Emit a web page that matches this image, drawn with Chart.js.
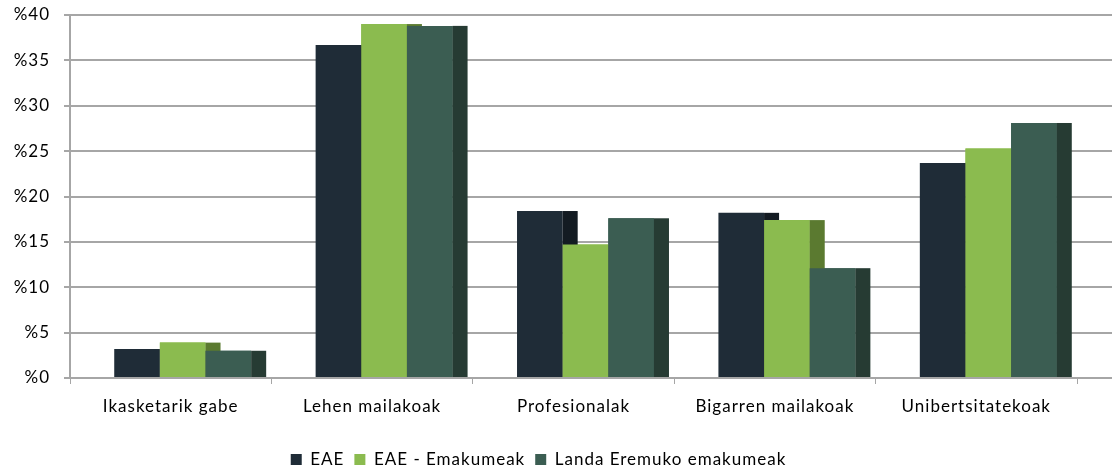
<!DOCTYPE html>
<html>
<head>
<meta charset="utf-8">
<script src="https://cdn.jsdelivr.net/npm/chart.js@4"></script>
<style>
  html, body { margin: 0; padding: 0; background: #ffffff; }
  #wrap { width: 1112px; height: 470px; }
</style>
</head>
<body>
<div id="wrap"><canvas id="c" width="1112" height="470"></canvas></div>
<script>
const categories = ['Ikasketarik gabe', 'Lehen mailakoak', 'Profesionalak', 'Bigarren mailakoak', 'Unibertsitatekoak'];
const seriesNames = ['EAE', 'EAE - Emakumeak', 'Landa Eremuko emakumeak'];
const eae = [3.2, 36.7, 18.4, 18.2, 23.7];
const eaeEmakumeak = [3.9, 39.0, 14.7, 17.4, 25.3];
const landaEmakumeak = [3.0, 38.8, 17.6, 12.1, 28.1];
const yTicks = [0, 5, 10, 15, 20, 25, 30, 35, 40];

const frontColors = ['#1f2c37', '#8bbb4f', '#3b5d52'];
const sideColors = ['#131b22', '#5b7a30', '#263b33'];
const DEPTH = 15;
const SHIFT = 12;
const FONT = 'Lato, "Open Sans", sans-serif';

const spacingPlugin = {
  id: 'spacing',
  beforeUpdate(chart) { chart.ctx.letterSpacing = '1px'; },
  beforeDraw(chart) { chart.ctx.letterSpacing = '1px'; }
};

const shiftPlugin = {
  id: 'shift3d',
  beforeDatasetsDraw(chart) {
    const ctx = chart.ctx;
    const ys = chart.scales.y;
    ctx.save();
    ctx.strokeStyle = '#a6a6a6';
    ctx.lineWidth = 2;
    yTicks.forEach(v => {
      if (v === 0) return;
      const py = Math.round(ys.getPixelForValue(v));
      ctx.beginPath();
      ctx.moveTo(chart.chartArea.left, py);
      ctx.lineTo(chart.width, py);
      ctx.stroke();
    });
    const p0 = Math.round(ys.getPixelForValue(0));
    ctx.beginPath();
    ctx.moveTo(chart.chartArea.right, p0);
    ctx.lineTo(chart.width, p0);
    ctx.stroke();
    ctx.restore();
    ctx.save();
    ctx.translate(SHIFT, 0);
  },
  afterDatasetsDraw(chart) {
    const ctx = chart.ctx;
    const n = chart.data.datasets.length;
    for (let i = 0; i < n; i++) {
      const meta = chart.getDatasetMeta(i);
      ctx.save();
      ctx.fillStyle = sideColors[i];
      meta.data.forEach(bar => {
        const p = bar.getProps(['x', 'y', 'base', 'width'], true);
        const right = p.x + p.width / 2;
        ctx.fillRect(right, p.y, DEPTH, p.base - p.y);
      });
      ctx.restore();
      if (i + 1 < n) {
        chart.getDatasetMeta(i + 1).data.forEach(bar => bar.draw(ctx));
      }
    }
    ctx.restore();
  }
};

const datasetsArr = [eae, eaeEmakumeak, landaEmakumeak].map((d, i) => ({
  label: seriesNames[i],
  data: d,
  backgroundColor: frontColors[i],
  borderWidth: 0,
  clip: false,
  categoryPercentage: 0.68,
  barPercentage: 1.0
}));

new Chart(document.getElementById('c'), {
  type: 'bar',
  data: { labels: categories, datasets: datasetsArr },
  options: {
    responsive: false,
    animation: false,
    devicePixelRatio: 1,
    layout: { autoPadding: false, padding: { top: 15, right: 35, left: 0, bottom: -8 } },
    plugins: {
      tooltip: { enabled: false },
      legend: {
        position: 'bottom',
        labels: {
          boxWidth: 11,
          boxHeight: 11,
          padding: 10,
          color: '#000000',
          font: { family: FONT, size: 17 }
        }
      }
    },
    scales: {
      x: {
        grid: { display: true, drawOnChartArea: false, drawTicks: true, tickLength: 6, color: '#a6a6a6', lineWidth: 1, offset: true },
        border: { display: true, color: '#a6a6a6', width: 2 },
        ticks: { color: '#000000', font: { family: FONT, size: 17 }, padding: 12, maxRotation: 0 },
        afterFit(s) { s.height = 63; }
      },
      y: {
        min: 0, max: 40,
        afterBuildTicks(s) { s.ticks = yTicks.map(v => ({ value: v })); },
        grid: { display: true, drawOnChartArea: false, drawTicks: true, tickLength: 6, color: '#a6a6a6', lineWidth: 2 },
        border: { display: true, color: '#a6a6a6', width: 2 },
        ticks: { color: '#000000', font: { family: FONT, size: 17 }, padding: 14, callback: v => '%' + v },
        afterFit(s) { s.width = 70; s.paddingTop = 0; s.paddingBottom = 0; }
      }
    }
  },
  plugins: [spacingPlugin, shiftPlugin]
});
</script>
</body>
</html>
